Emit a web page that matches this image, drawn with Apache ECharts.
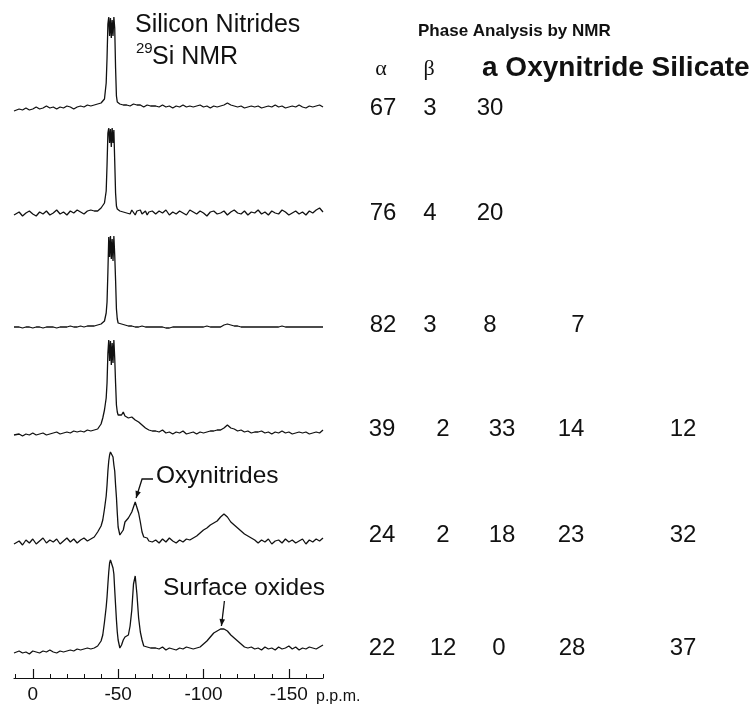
<!DOCTYPE html>
<html>
<head>
<meta charset="utf-8">
<script src="https://cdn.jsdelivr.net/npm/echarts@6/dist/echarts.min.js"></script>
<style>
html,body{margin:0;padding:0;background:#fff}
#c{width:754px;height:706px}
</style>
</head>
<body>
<div id="c"></div>
<script>
// Chemical shift sampling (p.p.m.), finer across the nitride peaks
const ppm = [
  11,8,6,4,2,0,-2,-4,-6,-8,-10,-12,-14,-16,-18,-20,-22,-24,-26,-28,-30,-32,-34,-36,
  -37,-38,-39,-40,-41,-42,-43,
  -43.5,-44,-44.5,-45,-45.5,-46,-46.5,-47,-47.5,-48,-48.5,-49,-49.5,
  -50,-51,-52,-53,-54,-55,-56,-57,-58,-59,-60,-61,-62,-63,-64,-65,-66,-67,-68,-69,-70,
  -72,-74,-76,-78,-80,-82,-84,-86,-88,-90,
  -92,-94,-96,-98,-100,-102,-104,-106,-108,-110,
  -112,-114,-116,-118,-120,-122,-124,-126,-128,-130,
  -132,-134,-136,-138,-140,-142,-144,-146,-148,-150,
  -152,-154,-156,-158,-160,-162,-164,-166,-168,-170
];

// 29Si signal intensity of each sample (arbitrary units), top to bottom
const sample1 = [
  -3,-1,-2,0,-2,-1,1,-1,0,2,0,1,-1,1,0,2,1,-1,1,2,1,3,2,3,
  3,4,4,5,6,9,25,
  50,84,91,72,90,70,88,72,91,80,40,12,6,
  5,4,5,3,4,3,4,2,3,4,2,3,1,3,2,1,2,3,1,2,1,
  2,1,3,1,2,0,2,1,3,1,
  2,1,2,3,1,2,0,2,1,2,
  3,5,3,2,1,2,0,1,2,1,
  2,0,1,2,1,3,1,2,0,1,
  2,1,3,1,0,2,1,2,3,1
];
const sample2 = [
  -2,1,-3,0,2,-1,-3,1,-1,2,-2,0,3,-1,1,-2,2,0,3,1,-1,2,3,2,
  3,2,4,5,7,10,22,
  48,80,85,70,84,66,85,70,83,52,20,7,4,
  5,2,4,1,3,0,2,-1,3,1,-2,2,0,3,-1,1,2,-2,1,0,2,
  -1,2,0,3,-2,1,-1,2,0,-2,
  3,1,-1,2,0,-3,1,2,-1,0,
  2,-2,1,3,0,-1,2,-2,1,0,
  3,-1,1,-2,2,0,-1,3,1,-2,
  0,2,-1,1,-2,2,0,3,5,1
];
const sample3 = [
  0,0,-1,0,0,-1,0,0,-1,0,0,0,-1,0,0,0,1,0,0,1,0,1,1,1,
  1,2,2,3,4,6,14,
  25,55,90,70,91,68,88,66,91,72,47,18,8,
  4,3,3,2,2,2,1,1,1,1,0,1,0,0,1,0,0,-1,0,0,0,
  0,0,0,-1,-1,0,0,0,0,0,
  0,0,0,0,0,1,0,0,0,0,
  2,3,2,1,1,0,0,0,0,0,
  0,0,0,0,0,0,0,1,0,0,
  0,0,0,0,0,0,0,0,0,0
];
const sample4 = [
  -2,-1,-3,-1,-2,0,-2,-1,0,-2,-1,0,1,-1,0,1,0,2,1,2,1,3,2,3,
  3,4,6,9,15,23,35,
  50,80,93,72,92,68,90,70,93,75,50,28,21,
  18,16,18,21,17,18,15,14,16,15,13,13,11,9,8,6,5,4,3,3,2,
  2,1,3,0,1,-1,1,0,2,-1,
  0,1,-1,1,0,1,2,2,3,3,
  5,8,5,4,2,3,1,2,0,1,
  1,2,0,1,-1,1,0,2,0,1,
  -1,0,1,0,1,-1,0,1,0,3
];
const sample5 = [
  -3,0,-4,1,-2,2,-3,0,3,-2,1,-1,2,-3,0,3,-1,2,-2,1,3,0,2,4,
  6,9,11,15,21,32,45,
  56,70,80,86,89,89,88,84,76,70,56,44,28,
  14,6,4,11,19,21,23,25,29,34,39,37,28,19,9,4,2,3,0,2,-1,
  1,-2,2,-1,3,0,-2,1,-1,2,
  1,3,5,8,11,13,16,18,20,24,
  27,24,19,16,13,10,7,5,3,1,
  -2,1,-1,2,-3,0,1,-2,2,-1,
  1,-2,0,2,-3,1,-1,2,0,3
];
const sample6 = [
  -1,1,-1,0,-2,1,0,-1,1,0,2,0,-1,1,0,1,2,1,3,2,3,4,3,4,
  5,6,7,11,17,30,45,
  55,68,80,89,92,93,90,84,78,62,47,32,20,
  12,4,7,12,15,16,17,26,42,68,76,58,34,20,12,6,4,5,3,4,3,
  4,3,5,2,4,3,2,4,3,5,
  4,3,4,5,8,11,15,19,21,23,
  23,21,17,14,11,8,5,4,5,3,
  4,2,5,3,4,2,5,3,4,6,
  3,5,2,4,3,5,4,3,5,7
];
const spectra = [sample1, sample2, sample3, sample4, sample5, sample6];

// Scale ticks (p.p.m.)
const minorTicks = [10,0,-10,-20,-30,-40,-50,-60,-70,-80,-90,-100,-110,-120,-130,-140,-150,-160,-170];
const majorTicks = [0,-50,-100,-150];

// Phase analysis table (%), one row per sample; null = not reported
const alphaPct     = [67, 76, 82, 39, 24, 22];
const betaPct      = [3, 4, 3, 2, 2, 12];
const amorphousPct = [30, 20, 8, 33, 18, 0];
const oxynitridePct= [null, null, 7, 14, 23, 28];
const silicatePct  = [null, null, null, 12, 32, 37];

// ---- layout ----
const gridTops = [8, 113, 227, 333, 441, 552];
const GRID_LEFT = 14, GRID_W = 309, GRID_H = 110;
const SANS = '"Liberation Sans", Arial, Helvetica, sans-serif';
const SERIF = '"Liberation Serif", "DejaVu Serif", serif';
const INK = '#111';

const chart = echarts.init(document.getElementById('c'), null, {renderer: 'canvas'});

const grids = gridTops.map(t => ({left: GRID_LEFT, width: GRID_W, top: t, height: GRID_H}));
grids.push({left: GRID_LEFT, width: GRID_W, top: gridTops[5], height: GRID_H});

const xAxes = spectra.map((_, i) => ({
  gridIndex: i, type: 'value', min: -170, max: 11, inverse: true, show: false
}));
// minor scale with its base line
xAxes[5] = {
  gridIndex: 5, type: 'value', min: -170, max: 11, inverse: true,
  position: 'bottom', offset: 16,
  axisLine: {show: true, onZero: false, lineStyle: {color: INK, width: 1.2}},
  axisTick: {show: true, inside: true, length: 4, customValues: minorTicks, lineStyle: {color: INK, width: 1}},
  axisLabel: {show: false},
  splitLine: {show: false}
};
// major ticks and labels
xAxes.push({
  gridIndex: 6, type: 'value', min: -170, max: 11, inverse: true,
  position: 'bottom', offset: 16,
  axisLine: {show: false, onZero: false},
  axisTick: {show: true, inside: true, length: 9, customValues: majorTicks, lineStyle: {color: INK, width: 1.2}},
  axisLabel: {show: true, customValues: majorTicks, margin: 7, fontSize: 19, color: INK, fontFamily: SANS,
              formatter: v => String(v)},
  splitLine: {show: false}
});

const yAxes = grids.map((_, i) => ({gridIndex: i, type: 'value', min: -10, max: 100, show: false}));

const series = spectra.map((vals, i) => ({
  type: 'line',
  xAxisIndex: i, yAxisIndex: i,
  data: ppm.map((p, k) => [p, vals[k]]),
  showSymbol: false,
  symbol: 'none',
  clip: false,
  lineStyle: {color: INK, width: 1.3},
  silent: true
}));

chart.setOption({
  animation: false,
  backgroundColor: '#fff',
  grid: grids,
  xAxis: xAxes,
  yAxis: yAxes,
  series: series
});

// ---- annotations and table ----
function txt(x, y, text, font, align) {
  return {type: 'text', x: x, y: y, silent: true,
    style: {text: text, font: font, fill: INK, align: align || 'left', verticalAlign: 'middle',
            textAlign: align || 'left', textVerticalAlign: 'middle'}};
}
function arrowHead(tip, from, len, half) {
  const dx = tip[0] - from[0], dy = tip[1] - from[1];
  const L = Math.hypot(dx, dy), ux = dx / L, uy = dy / L;
  const bx = tip[0] - ux * len, by = tip[1] - uy * len;
  return {type: 'polygon', silent: true,
    shape: {points: [tip, [bx - uy * half, by + ux * half], [bx + uy * half, by - ux * half]]},
    style: {fill: INK}};
}

const g = [];
// heading of the spectra
g.push(txt(135, 25, 'Silicon Nitrides', '25px ' + SANS));
g.push(txt(136, 49, '29', '15px ' + SANS));
g.push(txt(152, 57, 'Si NMR', '25px ' + SANS));

// oxynitride label pointing at the -61 p.p.m. resonance of sample 5
const oxyTip = chart.convertToPixel({gridIndex: 4}, [-60.5, 43]);
const oxyBend = [oxyTip[0] + 6, oxyTip[1] - 19];
g.push(txt(156, 476, 'Oxynitrides', '24.5px ' + SANS));
g.push({type: 'polyline', silent: true,
  shape: {points: [[153, oxyBend[1]], oxyBend, oxyTip]},
  style: {stroke: INK, lineWidth: 1.3, fill: null}});
g.push(arrowHead(oxyTip, oxyBend, 7, 2.8));

// surface oxide label pointing at the broad -111 p.p.m. band of sample 6
const oxTip = chart.convertToPixel({gridIndex: 5}, [-110.5, 26]);
const oxFrom = [oxTip[0] + 3, oxTip[1] - 25];
g.push(txt(163, 588, 'Surface oxides', '24.5px ' + SANS));
g.push({type: 'line', silent: true,
  shape: {x1: oxFrom[0], y1: oxFrom[1], x2: oxTip[0], y2: oxTip[1]},
  style: {stroke: INK, lineWidth: 1.3}});
g.push(arrowHead(oxTip, oxFrom, 7, 2.8));

// phase table
g.push(txt(418, 31, 'Phase Analysis by NMR', 'bold 17px ' + SANS));
g.push(txt(381, 69, 'α', '22px ' + SERIF, 'center'));
g.push(txt(429, 69, 'β', '22px ' + SERIF, 'center'));
g.push(txt(482, 68, 'a Oxynitride Silicate', 'bold 28px ' + SANS));

const rowY = [108, 213, 325, 429, 535, 648];
const colX = [
  [383, 430, 490, 578, 683],
  [383, 430, 490, 578, 683],
  [383, 430, 490, 578, 683],
  [382, 443, 502, 571, 683],
  [382, 443, 502, 571, 683],
  [382, 443, 499, 572, 683]
];
const columns = [alphaPct, betaPct, amorphousPct, oxynitridePct, silicatePct];
rowY.forEach((y, r) => {
  columns.forEach((col, c) => {
    if (col[r] !== null && col[r] !== undefined) {
      g.push(txt(colX[r][c], y, String(col[r]), '24px ' + SANS, 'center'));
    }
  });
});

// unit after the scale labels
g.push(txt(316, 697, 'p.p.m.', '16px ' + SANS));

chart.setOption({graphic: {elements: g}});
</script>
</body>
</html>
